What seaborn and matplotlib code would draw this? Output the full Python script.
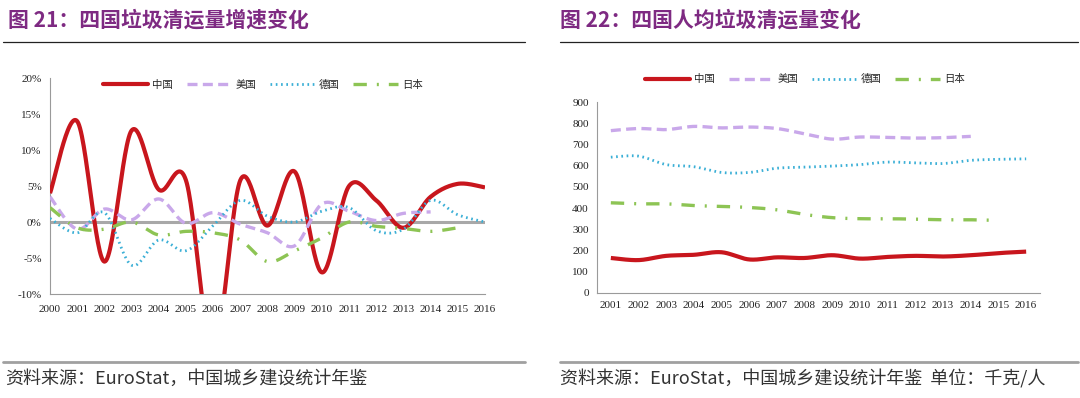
import numpy as np
import seaborn as sns
import matplotlib
matplotlib.use("Agg")
import matplotlib.pyplot as plt
from matplotlib.lines import Line2D

# ---- data ----
growth_years = list(range(2000, 2017))
growth_china = [4.0, 14.0, -5.5, 12.7, 4.5, 5.8, -18.0, 5.8, -0.5, 7.0, -7.0, 5.0, 3.0, -0.8, 3.5, 5.3, 4.8]
growth_usa = [3.5, -1.0, 1.8, 0.3, 3.2, -0.2, 1.3, -0.3, -1.5, -3.3, 2.5, 1.5, 0.2, 1.2, 1.4]
growth_germany = [0.5, -1.5, 1.3, -6.0, -2.5, -4.0, -0.5, 3.0, 0.8, 0.0, 1.5, 2.0, -1.2, -1.0, 3.0, 1.0, 0.0]
growth_japan = [2.0, -0.8, -1.0, 0.0, -1.8, -1.3, -1.5, -2.5, -5.5, -4.0, -2.2, 0.0, -0.6, -0.9, -1.3, -0.8]

percap_years = list(range(2001, 2017))
percap_china = [165, 155, 175, 180, 192, 158, 168, 165, 178, 162, 170, 175, 172, 178, 188, 195]
percap_usa = [765, 775, 770, 785, 778, 782, 775, 750, 725, 735, 733, 730, 732, 738]
percap_germany = [640, 645, 605, 595, 568, 568, 588, 593, 598, 605, 617, 613, 610, 625, 630, 632]
percap_japan = [425, 420, 420, 412, 408, 403, 392, 370, 355, 350, 350, 348, 345, 345, 342]

country_names = ["中国", "美国", "德国", "日本"]

# ---- styles ----
styles = [
    dict(color="#C8161D", lw=3.0, ls="-"),
    dict(color="#C9A8EA", lw=2.4, ls=(0, (3, 1.6))),
    dict(color="#3AAFD6", lw=2.0, ls=(0, (0.6, 1.3))),
    dict(color="#8DC454", lw=2.4, ls=(0, (4, 3, 0.6, 3))),
]
TITLE_C = "#7E2A82"
CJK = ["Noto Sans CJK SC", "DejaVu Sans"]
SERIF = "Liberation Serif"


def smooth_curve(x, y, n=30):
    # Excel-style smoothed line: cubic Bezier through each data point
    pts = np.column_stack([np.asarray(x, float), np.asarray(y, float)])
    t = np.linspace(0, 1, n)[:, None]
    out = []
    for i in range(len(pts) - 1):
        p0, p3 = pts[i], pts[i + 1]
        prev = pts[max(i - 1, 0)]
        nxt = pts[min(i + 2, len(pts) - 1)]
        c1 = p0 + (p3 - prev) / 6
        c2 = p3 - (nxt - p0) / 6
        seg = (1 - t) ** 3 * p0 + 3 * (1 - t) ** 2 * t * c1 + 3 * (1 - t) * t ** 2 * c2 + t ** 3 * p3
        out.append(seg if i == 0 else seg[1:])
    out = np.vstack(out)
    return out[:, 0], out[:, 1]


def draw_series(ax, x, series):
    for vals, st in zip(series, styles):
        sx, sy = smooth_curve(x[:len(vals)], vals)
        sns.lineplot(x=sx, y=sy, ax=ax, sort=False, estimator=None, color=st["color"],
                     linewidth=st["lw"], linestyle=st["ls"], solid_capstyle="butt",
                     dash_capstyle="butt", zorder=3)


def add_legend(ax, anchor):
    handles = [Line2D([], [], color=st["color"], lw=st["lw"], ls=st["ls"]) for st in styles]
    ax.legend(handles, country_names, loc="center", bbox_to_anchor=anchor, ncol=4, frameon=False,
              handlelength=4.3, columnspacing=1.3, handletextpad=0.4, prop={"family": CJK, "size": 7.5})


sns.set_theme(style="white")
plt.rcParams["font.family"] = CJK

fig = plt.figure(figsize=(10.8, 3.98), dpi=100)

# ---- left chart: growth rate ----
ax1 = fig.add_axes([50 / 1080, 1 - 294 / 398, 435 / 1080, 216 / 398])
ax1.axhline(0, color="#A8A8A8", lw=2.2, zorder=1)
draw_series(ax1, growth_years, [growth_china, growth_usa, growth_germany, growth_japan])
ax1.set_xlim(2000, 2016)
ax1.set_ylim(-10, 20)
ax1.set_xticks(growth_years)
ax1.set_xticklabels([str(y) for y in growth_years], family=SERIF, fontsize=8, color="#222222")
ax1.set_yticks(range(-10, 21, 5))
ax1.set_yticklabels([f"{v}%" for v in range(-10, 21, 5)], family=SERIF, fontsize=8, color="#222222")
add_legend(ax1, (0.49, 0.97))

# ---- right chart: per capita ----
ax2 = fig.add_axes([597 / 1080, 1 - 293 / 398, 443 / 1080, 191 / 398])
pos = list(range(len(percap_years)))
draw_series(ax2, pos, [percap_china, percap_usa, percap_germany, percap_japan])
ax2.set_xlim(-0.5, len(percap_years) - 0.5)
ax2.set_ylim(0, 900)
ax2.set_xticks(pos)
ax2.set_xticklabels([str(y) for y in percap_years], family=SERIF, fontsize=8, color="#222222")
ax2.set_xticks(np.arange(-0.5, len(percap_years), 1), minor=True)
ax2.set_yticks(range(0, 901, 100))
ax2.set_yticklabels([str(v) for v in range(0, 901, 100)], family=SERIF, fontsize=8, color="#222222")
add_legend(ax2, (0.47, 1.12))

for ax in (ax1, ax2):
    ax.set_xlabel("")
    ax.set_ylabel("")
    for side in ("top", "right"):
        ax.spines[side].set_visible(False)
    for side in ("left", "bottom"):
        ax.spines[side].set_color("#9A9A9A")
        ax.spines[side].set_linewidth(0.8)
    ax.tick_params(axis="both", which="both", direction="out", length=3, width=0.7,
                   color="#9A9A9A", pad=3)
    ax.patch.set_alpha(0)
ax2.tick_params(axis="x", which="major", length=0, pad=6)
ax1.tick_params(axis="x", pad=5)

# ---- titles, rules and footers ----
fig.text(8 / 1080, 1 - 20 / 398, "图 21：四国垃圾清运量增速变化", fontsize=15, weight="bold",
         color=TITLE_C, va="center", ha="left")
fig.text(560 / 1080, 1 - 20 / 398, "图 22：四国人均垃圾清运量变化", fontsize=15, weight="bold",
         color=TITLE_C, va="center", ha="left")
for x0, x1 in ((3, 525), (560, 1078)):
    fig.add_artist(Line2D([x0 / 1080, x1 / 1080], [1 - 42 / 398] * 2, color="#222222", lw=0.9))
    fig.add_artist(Line2D([x0 / 1080, x1 / 1080], [1 - 362 / 398] * 2, color="#A0A0A0", lw=2.0))
fig.text(5 / 1080, 1 - 379 / 398, "资料来源：EuroStat，中国城乡建设统计年鉴", fontsize=13,
         color="#333333", va="center", ha="left")
fig.text(560 / 1080, 1 - 379 / 398, "资料来源：EuroStat，中国城乡建设统计年鉴  单位：千克/人", fontsize=13,
         color="#333333", va="center", ha="left")

fig.savefig("out.png", dpi=100)
